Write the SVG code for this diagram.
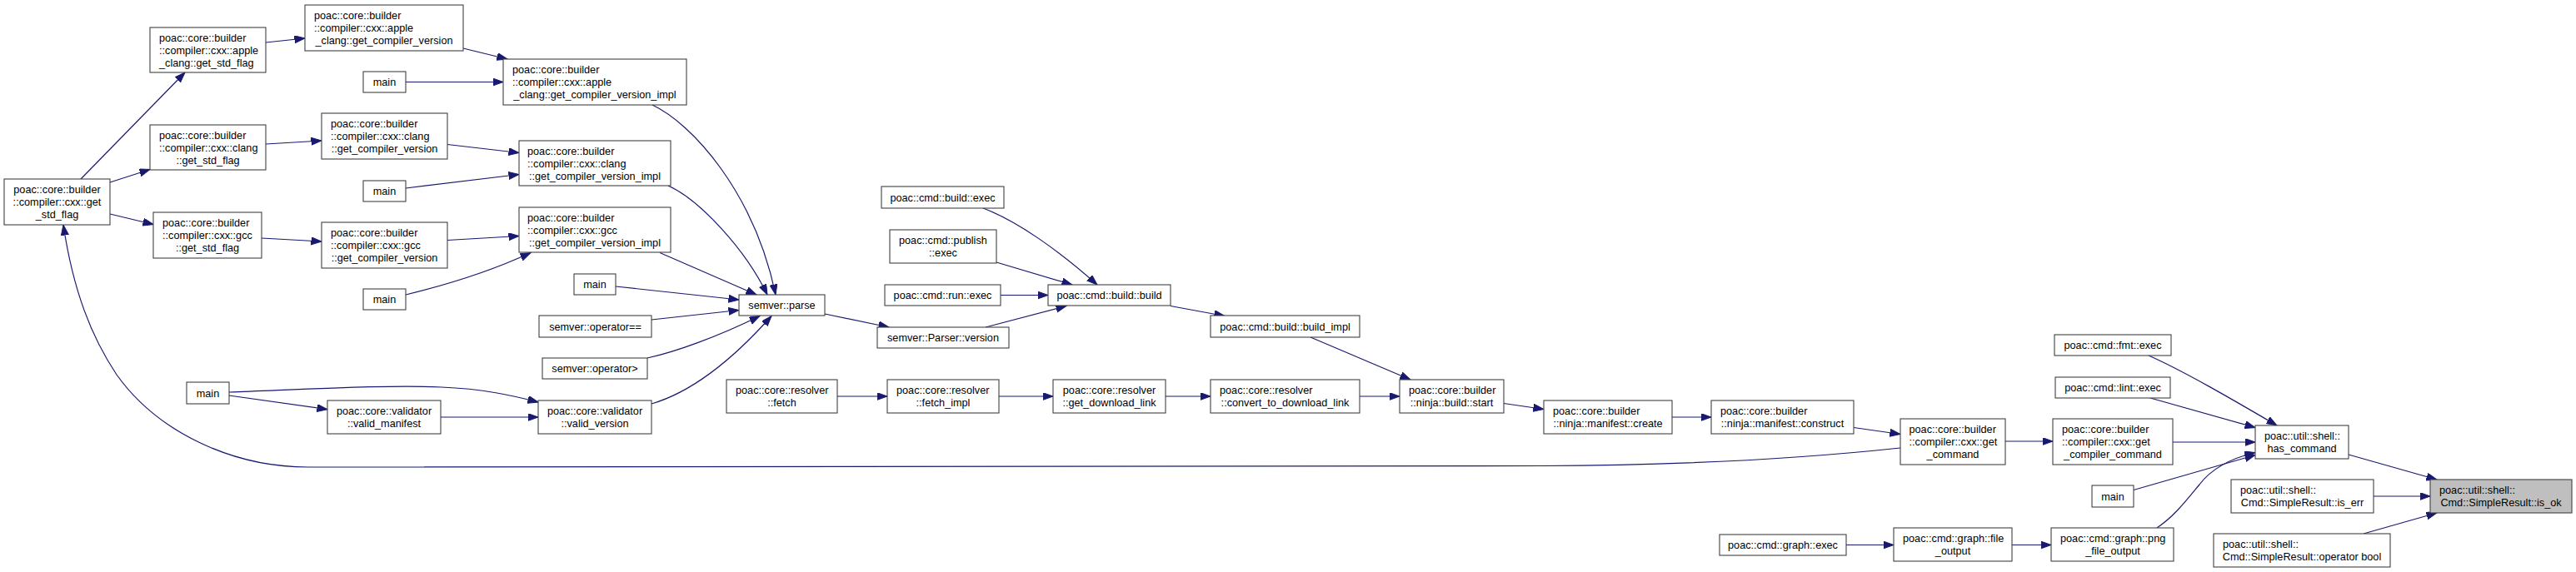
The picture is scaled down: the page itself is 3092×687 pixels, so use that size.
<svg xmlns="http://www.w3.org/2000/svg" width="3092" height="687" viewBox="0 0 3092 687">
<style>
.n rect{fill:#fff;stroke:#404040;stroke-width:1.1}
.n.f rect{fill:#bfbfbf}
text{font-family:"Liberation Sans",Arial,sans-serif;font-size:12.7px;fill:#000}
.m{text-anchor:middle}
.e path{fill:none;stroke:#191970;stroke-width:1.2;marker-end:url(#ah)}
</style>
<defs>
<marker id="ah" markerUnits="userSpaceOnUse" markerWidth="13" markerHeight="10" refX="12.5" refY="4.5" orient="auto">
<path d="M0,0 L12.5,4.5 L0,9 z" fill="#191970" stroke="#191970" stroke-width="1"/>
</marker>
</defs>
<rect width="3092" height="687" fill="#fff"/>
<g class="e" id="connectors">
<path d="M97,215 L222,87"/>
<path d="M132,219 L180,203.5"/>
<path d="M132,257 L184,269.5"/>
<path d="M319,51 L366,46"/>
<path d="M319,173 L386,169"/>
<path d="M314,286 L386,290"/>
<path d="M487,98.5 L604,98.5"/>
<path d="M556,58 L609,71"/>
<path d="M537,173.5 L623,183.5"/>
<path d="M487,226 L623,209.5"/>
<path d="M537,288.5 L623,283.5"/>
<path d="M487,354 C520,346 580,330 637,303.5"/>
<path d="M783,126 C830,148 905,230 931,354"/>
<path d="M802,223 C840,240 895,300 921,354"/>
<path d="M792,303.5 L908,354"/>
<path d="M739,344 L887,360"/>
<path d="M782,384 L887,372.5"/>
<path d="M777,430 C810,423 860,405 912,379.5"/>
<path d="M782,485 C840,468 890,420 926,379.5"/>
<path d="M275,471 C380,467 470,462 530,465 C580,467 615,475 646,483"/>
<path d="M275,475 L393,491.7"/>
<path d="M529,501 L646,501"/>
<path d="M990,377 L1067,393"/>
<path d="M1180,250 C1220,265 1270,300 1317,342"/>
<path d="M1196,315 L1287,342"/>
<path d="M1201,354.5 L1258,354.5"/>
<path d="M1183,393 L1280,367.5"/>
<path d="M1405,367.5 L1470,379.5"/>
<path d="M1005,476 L1065,476"/>
<path d="M1199,476 L1264,476"/>
<path d="M1399,476 L1453,476"/>
<path d="M1573,405 L1693,456"/>
<path d="M1632,476 L1680,476"/>
<path d="M1805,484.5 L1853,491.5"/>
<path d="M2007,501 L2054,501"/>
<path d="M2225,513.5 L2281,521.5"/>
<path d="M2281,538 C2150,552 2000,559 1850,559.5 L370,561 C280,561 190,520 140,450 C110,405 88,350 76,270"/>
<path d="M2407,530 L2464,530"/>
<path d="M2579,427 C2620,445 2680,480 2733,511"/>
<path d="M2581,478 L2707,513.5"/>
<path d="M2608,531 L2707,531"/>
<path d="M2561,588.5 L2707,546.5"/>
<path d="M2589,634 C2610,620 2625,600 2640,582 C2655,562 2680,550 2707,543.5"/>
<path d="M2819,546 L2925,576"/>
<path d="M2849,596 L2917,596"/>
<path d="M2837,641 L2925,616"/>
<path d="M2216,654.5 L2273,654.5"/>
<path d="M2415,654.5 L2462,654.5"/>
</g>
<g class="n" id="n1"><rect x="5" y="215" width="127" height="55"/><text class="m" x="68.5" y="232">poac::core::builder</text><text class="m" x="68.5" y="247">::compiler::cxx::get</text><text class="m" x="68.5" y="262">_std_flag</text></g>
<g class="n" id="n2"><rect x="180" y="33" width="139" height="54"/><text x="191" y="49.5">poac::core::builder</text><text x="191" y="64.5">::compiler::cxx::apple</text><text x="191" y="79.5">_clang::get_std_flag</text></g>
<g class="n" id="n3"><rect x="366" y="6" width="190" height="55"/><text x="377" y="23">poac::core::builder</text><text x="377" y="38">::compiler::cxx::apple</text><text class="m" x="461" y="53">_clang::get_compiler_version</text></g>
<g class="n" id="n4"><rect x="436" y="86" width="51" height="25"/><text class="m" x="461.5" y="103">main</text></g>
<g class="n" id="n5"><rect x="180" y="150" width="139" height="54"/><text x="191" y="166.5">poac::core::builder</text><text x="191" y="181.5">::compiler::cxx::clang</text><text class="m" x="249.5" y="196.5">::get_std_flag</text></g>
<g class="n" id="n6"><rect x="386" y="136" width="151" height="55"/><text x="397" y="153">poac::core::builder</text><text x="397" y="168">::compiler::cxx::clang</text><text class="m" x="461.5" y="183">::get_compiler_version</text></g>
<g class="n" id="n7"><rect x="436" y="217" width="51" height="25"/><text class="m" x="461.5" y="234">main</text></g>
<g class="n" id="n8"><rect x="184" y="255" width="130" height="55"/><text x="195" y="272">poac::core::builder</text><text x="195" y="287">::compiler::cxx::gcc</text><text class="m" x="249" y="302">::get_std_flag</text></g>
<g class="n" id="n9"><rect x="386" y="267" width="151" height="55"/><text x="397" y="284">poac::core::builder</text><text x="397" y="299">::compiler::cxx::gcc</text><text class="m" x="461.5" y="314">::get_compiler_version</text></g>
<g class="n" id="n10"><rect x="436" y="347" width="51" height="25"/><text class="m" x="461.5" y="364">main</text></g>
<g class="n" id="n11"><rect x="224" y="459" width="51" height="26"/><text class="m" x="249.5" y="476.5">main</text></g>
<g class="n" id="n12"><rect x="393" y="481" width="136" height="40"/><text class="m" x="461" y="498">poac::core::validator</text><text class="m" x="461" y="513">::valid_manifest</text></g>
<g class="n" id="n13"><rect x="604" y="71" width="220" height="55"/><text x="615" y="88">poac::core::builder</text><text x="615" y="103">::compiler::cxx::apple</text><text class="m" x="714" y="118">_clang::get_compiler_version_impl</text></g>
<g class="n" id="n14"><rect x="623" y="169" width="182" height="54"/><text x="633" y="185.5">poac::core::builder</text><text x="633" y="200.5">::compiler::cxx::clang</text><text class="m" x="714" y="215.5">::get_compiler_version_impl</text></g>
<g class="n" id="n15"><rect x="623" y="249" width="182" height="54"/><text x="633" y="265.5">poac::core::builder</text><text x="633" y="280.5">::compiler::cxx::gcc</text><text class="m" x="714" y="295.5">::get_compiler_version_impl</text></g>
<g class="n" id="n16"><rect x="689" y="329" width="50" height="25"/><text class="m" x="714" y="346">main</text></g>
<g class="n" id="n17"><rect x="887" y="354" width="103" height="25"/><text class="m" x="938.5" y="371">semver::parse</text></g>
<g class="n" id="n18"><rect x="647" y="379" width="135" height="26"/><text class="m" x="714.5" y="396.5">semver::operator==</text></g>
<g class="n" id="n19"><rect x="651" y="430" width="126" height="25"/><text class="m" x="714" y="447">semver::operator&gt;</text></g>
<g class="n" id="n20"><rect x="646" y="481" width="136" height="40"/><text class="m" x="714" y="498">poac::core::validator</text><text class="m" x="714" y="513">::valid_version</text></g>
<g class="n" id="n21"><rect x="872" y="456" width="133" height="40"/><text x="883" y="473">poac::core::resolver</text><text class="m" x="938.5" y="488">::fetch</text></g>
<g class="n" id="n22"><rect x="1058" y="224" width="147" height="26"/><text class="m" x="1131.5" y="241.5">poac::cmd::build::exec</text></g>
<g class="n" id="n23"><rect x="1068" y="276" width="128" height="40"/><text x="1079" y="293">poac::cmd::publish</text><text class="m" x="1132" y="308">::exec</text></g>
<g class="n" id="n24"><rect x="1062" y="342" width="139" height="25"/><text class="m" x="1131.5" y="359">poac::cmd::run::exec</text></g>
<g class="n" id="n25"><rect x="1258" y="342" width="147" height="25"/><text class="m" x="1331.5" y="359">poac::cmd::build::build</text></g>
<g class="n" id="n26"><rect x="1053" y="393" width="158" height="25"/><text class="m" x="1132" y="410">semver::Parser::version</text></g>
<g class="n" id="n27"><rect x="1453" y="379" width="179" height="26"/><text class="m" x="1542.5" y="396.5">poac::cmd::build::build_impl</text></g>
<g class="n" id="n28"><rect x="1065" y="456" width="134" height="40"/><text x="1076" y="473">poac::core::resolver</text><text class="m" x="1132" y="488">::fetch_impl</text></g>
<g class="n" id="n29"><rect x="1264" y="456" width="135" height="40"/><text class="m" x="1331.5" y="473">poac::core::resolver</text><text class="m" x="1331.5" y="488">::get_download_link</text></g>
<g class="n" id="n30"><rect x="1453" y="456" width="179" height="40"/><text x="1464" y="473">poac::core::resolver</text><text class="m" x="1542.5" y="488">::convert_to_download_link</text></g>
<g class="n" id="n31"><rect x="1680" y="456" width="125" height="40"/><text x="1691" y="473">poac::core::builder</text><text class="m" x="1742.5" y="488">::ninja::build::start</text></g>
<g class="n" id="n32"><rect x="1853" y="481" width="154" height="40"/><text x="1864" y="498">poac::core::builder</text><text class="m" x="1930" y="513">::ninja::manifest::create</text></g>
<g class="n" id="n33"><rect x="2054" y="481" width="171" height="40"/><text x="2065" y="498">poac::core::builder</text><text class="m" x="2139.5" y="513">::ninja::manifest::construct</text></g>
<g class="n" id="n34"><rect x="2281" y="503" width="126" height="55"/><text x="2291.5" y="520">poac::core::builder</text><text x="2291.5" y="535">::compiler::cxx::get</text><text class="m" x="2344" y="550">_command</text></g>
<g class="n" id="n35"><rect x="2064" y="642" width="152" height="25"/><text class="m" x="2140" y="659">poac::cmd::graph::exec</text></g>
<g class="n" id="n36"><rect x="2273" y="634" width="142" height="40"/><text x="2284" y="651">poac::cmd::graph::file</text><text class="m" x="2344" y="666">_output</text></g>
<g class="n" id="n37"><rect x="2466" y="402" width="140" height="25"/><text class="m" x="2536" y="419">poac::cmd::fmt::exec</text></g>
<g class="n" id="n38"><rect x="2467" y="453" width="138" height="25"/><text class="m" x="2536" y="470">poac::cmd::lint::exec</text></g>
<g class="n" id="n39"><rect x="2464" y="503" width="144" height="55"/><text x="2475" y="520">poac::core::builder</text><text x="2475" y="535">::compiler::cxx::get</text><text class="m" x="2536" y="550">_compiler_command</text></g>
<g class="n" id="n40"><rect x="2511" y="583" width="50" height="26"/><text class="m" x="2536" y="600.5">main</text></g>
<g class="n" id="n41"><rect x="2462" y="634" width="147" height="40"/><text x="2473" y="651">poac::cmd::graph::png</text><text class="m" x="2536" y="666">_file_output</text></g>
<g class="n" id="n42"><rect x="2707" y="511" width="112" height="40"/><text x="2718" y="528">poac::util::shell::</text><text class="m" x="2763" y="543">has_command</text></g>
<g class="n" id="n43"><rect x="2678" y="576" width="171" height="40"/><text x="2689" y="593">poac::util::shell::</text><text class="m" x="2763.5" y="608">Cmd::SimpleResult::is_err</text></g>
<g class="n f" id="n44"><rect x="2917" y="576" width="170" height="40"/><text x="2928" y="593">poac::util::shell::</text><text class="m" x="3002" y="608">Cmd::SimpleResult::is_ok</text></g>
<g class="n" id="n45"><rect x="2657" y="641" width="212" height="40"/><text x="2668" y="658">poac::util::shell::</text><text class="m" x="2763" y="673">Cmd::SimpleResult::operator bool</text></g>
</svg>
